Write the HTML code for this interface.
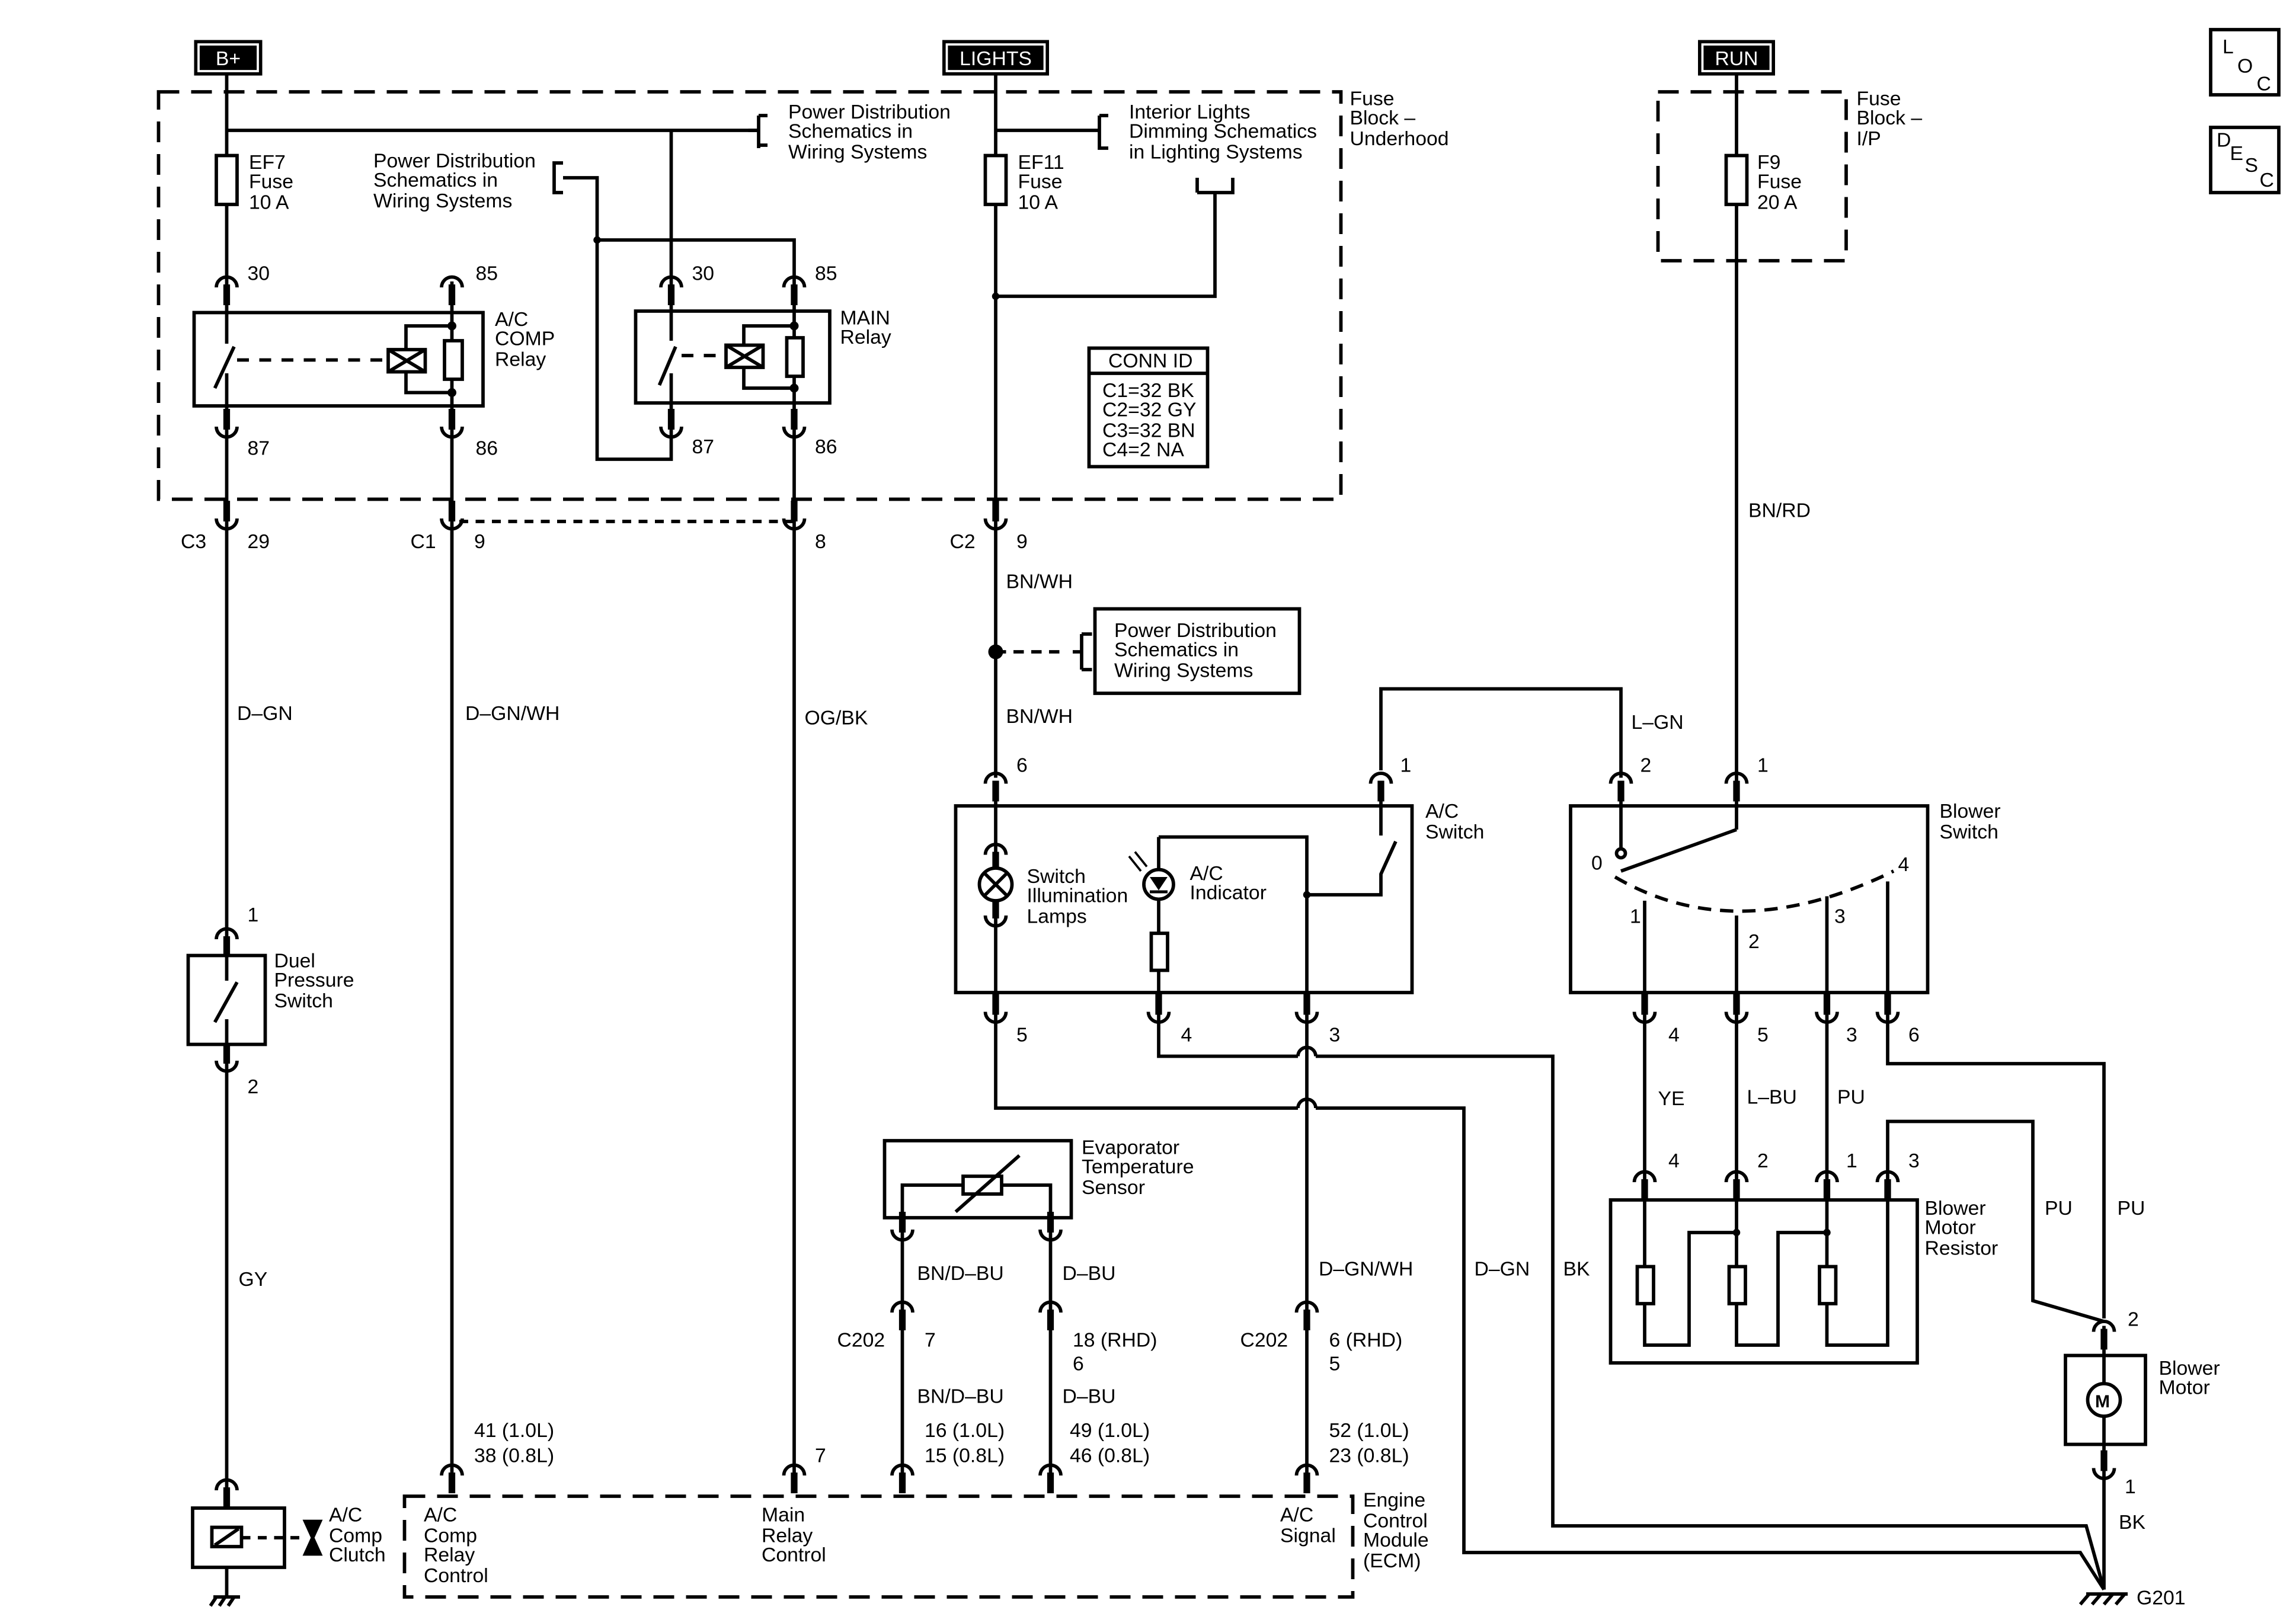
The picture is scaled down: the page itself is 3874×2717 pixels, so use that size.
<!DOCTYPE html>
<html><head><meta charset="utf-8"><style>
html,body{margin:0;padding:0;background:#fff;}
svg{display:block}
text{font-family:"Liberation Sans",sans-serif;font-size:13.5px;fill:#000}
</style></head><body>
<svg width="3874" height="2717" viewBox="0 0 1549.6 1086.8" xmlns="http://www.w3.org/2000/svg">
<defs>
<g id="pt"><path d="M-7,4 A7,7 0 0 1 7,4" fill="none" stroke="#000" stroke-width="2.3"/><line x1="0" y1="2" x2="0" y2="16" stroke="#000" stroke-width="4.5"/></g>
<g id="pb"><path d="M-7,-4 A7,7 0 0 0 7,-4" fill="none" stroke="#000" stroke-width="2.3"/><line x1="0" y1="-2" x2="0" y2="-16" stroke="#000" stroke-width="4.5"/></g>
</defs>
<rect width="1549.6" height="1086.8" fill="#fff"/>
<g fill="none" stroke="#000" stroke-width="2.3">
<rect x="107" y="62" width="798" height="275" stroke-dasharray="14,8"/>
<rect x="1119" y="62" width="127" height="114" stroke-dasharray="14,8"/>
<rect x="273" y="1010" width="640" height="68" stroke-dasharray="14,8"/>
<!-- B+ line -->
<path d="M153,50 V232 M153,252 V662 M153,688 V1018"/>
<path d="M153,88 H512"/>
<path d="M512,78 H518 M512,78 V100 M512,98 H518 M512,88 H505"/>
<path d="M453,88 V190"/>
<!-- LIGHTS -->
<path d="M672,50 V525"/>
<path d="M672,88 H742 M742,78 H748 M742,78 V100 H748"/>
<path d="M672,200 H820 V130 M808,130 V120 M808,130 H832 V120"/>
<!-- RUN -->
<path d="M1172,50 V560"/>
<rect x="146" y="105" width="14" height="33" fill="#fff"/>
<rect x="665" y="105" width="14" height="33" fill="#fff"/>
<rect x="1165" y="105" width="14" height="33" fill="#fff"/>
<!-- A/C comp relay -->
<rect x="131" y="211" width="195" height="63"/>
<path d="M305,190 V352 M305,352 V1000"/>
<path d="M145,262 L158,234"/>
<path d="M160,243 H262" stroke-dasharray="8,7"/>
<rect x="262" y="236" width="25" height="15"/>
<path d="M262,236 L287,251 M287,236 L262,251"/>
<path d="M274,236 V220 H305 M274,251 V265 H305"/>
<rect x="300" y="230" width="12" height="26" fill="#fff"/>
<!-- main relay -->
<rect x="429" y="210" width="131" height="62"/>
<path d="M453,190 V230 M445,260 L456,234 M453,252 V310 H403 V120 H380 M380,110 H374 V130 H380"/>
<path d="M403,162 H536 V1000"/>
<path d="M460,240 H490" stroke-dasharray="8,7"/>
<rect x="490" y="233" width="25" height="15"/>
<path d="M490,233 L515,248 M515,233 L490,248"/>
<path d="M502,233 V220 H536 M502,248 V262 H536"/>
<rect x="531" y="228" width="11" height="26" fill="#fff"/>
<path d="M310,352 H536" stroke-dasharray="6,5"/>
<path d="M672,440 H717" stroke-dasharray="7,5"/>
<path d="M730,440 H724 M730,428 V452 M730,428 H737 M730,452 H737"/>
<rect x="739" y="411" width="138" height="57"/>
<rect x="735" y="235" width="80" height="80"/>
<path d="M735,252 H815"/>
<!-- A/C switch -->
<rect x="645" y="544" width="308" height="126"/>
<path d="M672,540 V700 M672,700 V748 H876 M888,748 H988 V1048 H1404 L1420,1073"/>
<path d="M782,565 H882 V700 M882,700 V1000"/>
<path d="M782,565 V630 M782,655 V700 M782,700 V713 H876 M888,713 H1048 V1030 H1408 L1420,1073"/>
<path d="M876,713 A6,6 0 0 1 888,713 M876,748 A6,6 0 0 1 888,748"/>
<rect x="777" y="630" width="11" height="25" fill="#fff"/>
<path d="M882,604 H932 V590 L942,568 M932,540 V564"/>
<path d="M932,520 V465 H1094 V525"/>
<!-- evaporator -->
<rect x="597" y="770" width="126" height="52"/>
<path d="M609,830 V1000 M709,830 V1000"/>
<path d="M609,822 V800 H650 M676,800 H709 V822"/>
<rect x="650" y="794" width="26" height="12" fill="#fff"/>
<path d="M645,818 L688,780"/>
<!-- blower switch -->
<rect x="1060" y="544" width="241" height="126"/>
<path d="M1094,540 V572"/>
<circle cx="1094" cy="576" r="3" fill="#fff"/>
<path d="M1094,588 L1172,560"/>
<path d="M1090,592 Q1172,640 1278,588" stroke-dasharray="9,6"/>
<path d="M1110,608 V795 M1172,618 V795 M1233,605 V795 M1274,595 V718 H1420 V890"/>
<!-- resistor -->
<rect x="1087" y="810" width="207" height="110"/>
<path d="M1110,795 V908 H1140 V832 H1172 M1172,795 V908 H1200 V832 H1233 M1233,795 V908 H1274 V795 M1274,795 V757 H1372 V878 L1420,892"/>
<rect x="1105" y="855" width="11" height="25" fill="#fff"/>
<rect x="1167" y="855" width="11" height="25" fill="#fff"/>
<rect x="1228" y="855" width="11" height="25" fill="#fff"/>
<!-- motor -->
<rect x="1394" y="915" width="54" height="60"/>
<path d="M1420,895 V934 M1420,956 V1073"/>
<circle cx="1420" cy="945" r="11" fill="#fff"/>
<path d="M1408,1076 H1436 M1410,1076 L1404,1083 M1418,1076 L1412,1083 M1426,1076 L1420,1083 M1434,1076 L1428,1083"/>
<!-- duel pressure switch -->
<rect x="127" y="645" width="52" height="60"/>
<path d="M145,690 L160,663"/>
<!-- clutch -->
<rect x="130" y="1018" width="62" height="40"/>
<rect x="143" y="1031" width="20" height="13" fill="#fff"/>
<path d="M145,1043 L161,1032"/>
<path d="M163,1038 H205" stroke-dasharray="6,5"/>
<path d="M206,1027 L216,1027 L211,1038 Z M206,1049 L216,1049 L211,1038 Z" fill="#000"/>
<path d="M153,1058 V1078 M144,1078 H162 M146,1078 L142,1084 M152,1078 L148,1084 M158,1078 L154,1084"/>
<rect x="1492" y="20" width="46" height="44"/>
<rect x="1492" y="86" width="46" height="44"/>
</g>
<circle cx="672" cy="440" r="5" fill="#000"/>
<circle cx="403" cy="162" r="2.5" fill="#000"/>
<circle cx="672" cy="200" r="2.5" fill="#000"/>
<circle cx="305" cy="220" r="3" fill="#000"/><circle cx="305" cy="265" r="3" fill="#000"/>
<circle cx="536" cy="220" r="3" fill="#000"/><circle cx="536" cy="262" r="3" fill="#000"/>
<circle cx="882" cy="604" r="2.5" fill="#000"/>
<circle cx="1172" cy="832" r="2.5" fill="#000"/><circle cx="1233" cy="832" r="2.5" fill="#000"/>
<circle cx="782" cy="597" r="10" fill="#fff" stroke="#000" stroke-width="2.3"/>
<path d="M776,592 H788 L782,601 Z" fill="#000"/><line x1="776" y1="602" x2="788" y2="602" stroke="#000" stroke-width="2"/>
<path d="M770,588 L762,578 M774,585 L766,575" stroke="#000" stroke-width="1.5"/>
<text x="1419" y="950" text-anchor="middle" style="font-weight:bold;font-size:12px">M</text>
<!-- pins -->
<use href="#pt" x="153" y="190"/><use href="#pt" x="305" y="190"/><use href="#pt" x="453" y="190"/><use href="#pt" x="536" y="190"/>
<use href="#pb" x="153" y="292"/><use href="#pb" x="305" y="292"/><use href="#pb" x="453" y="292"/><use href="#pb" x="536" y="292"/>
<use href="#pb" x="153" y="354"/><use href="#pb" x="305" y="354"/><use href="#pb" x="536" y="354"/><use href="#pb" x="672" y="354"/>
<use href="#pt" x="153" y="630"/><use href="#pb" x="153" y="720"/><use href="#pt" x="153" y="1002"/>
<use href="#pt" x="305" y="992"/><use href="#pt" x="536" y="992"/><use href="#pt" x="609" y="992"/><use href="#pt" x="709" y="992"/><use href="#pt" x="882" y="992"/>
<use href="#pt" x="672" y="525"/><use href="#pt" x="932" y="525"/><use href="#pt" x="1094" y="525"/><use href="#pt" x="1172" y="525"/>
<use href="#pt" x="672" y="573"/><use href="#pb" x="672" y="622"/>
<use href="#pb" x="672" y="687"/><use href="#pb" x="782" y="687"/><use href="#pb" x="882" y="687"/>
<use href="#pb" x="1110" y="687"/><use href="#pb" x="1172" y="687"/><use href="#pb" x="1233" y="687"/><use href="#pb" x="1274" y="687"/>
<use href="#pt" x="1110" y="794"/><use href="#pt" x="1172" y="794"/><use href="#pt" x="1233" y="794"/><use href="#pt" x="1274" y="794"/>
<use href="#pb" x="609" y="834"/><use href="#pb" x="709" y="834"/>
<use href="#pt" x="609" y="882"/><use href="#pt" x="709" y="882"/><use href="#pt" x="882" y="882"/>
<use href="#pt" x="1420" y="895"/><use href="#pb" x="1420" y="995"/>
<circle cx="672" cy="597" r="11" fill="#fff" stroke="#000" stroke-width="2.3"/>
<path d="M664,589 L680,605 M680,589 L664,605" stroke="#000" stroke-width="2.3"/>
<rect x="131" y="27" width="46" height="24" fill="#000"/><rect x="134" y="30" width="40" height="18" fill="none" stroke="#fff" stroke-width="1.5"/>
<text x="154" y="44" text-anchor="middle" style="fill:#fff">B+</text>
<rect x="636" y="27" width="72" height="24" fill="#000"/><rect x="639" y="30" width="66" height="18" fill="none" stroke="#fff" stroke-width="1.5"/>
<text x="672" y="44" text-anchor="middle" style="fill:#fff">LIGHTS</text>
<rect x="1146" y="27" width="52" height="24" fill="#000"/><rect x="1149" y="30" width="46" height="18" fill="none" stroke="#fff" stroke-width="1.5"/>
<text x="1172" y="44" text-anchor="middle" style="fill:#fff">RUN</text>
<g>
<text x="1500" y="36">L</text><text x="1510" y="49">O</text><text x="1523" y="61">C</text>
<text x="1496" y="99">D</text><text x="1505" y="108">E</text><text x="1515" y="116">S</text><text x="1525" y="126">C</text>
<text x="911" y="71">Fuse</text><text x="911" y="84">Block –</text><text x="911" y="98">Underhood</text>
<text x="1253" y="71">Fuse</text><text x="1253" y="84">Block –</text><text x="1253" y="98">I/P</text>
<text x="532" y="80">Power Distribution</text><text x="532" y="93">Schematics in</text><text x="532" y="107">Wiring Systems</text>
<text x="762" y="80">Interior Lights</text><text x="762" y="93">Dimming Schematics</text><text x="762" y="107">in Lighting Systems</text>
<text x="252" y="113">Power Distribution</text><text x="252" y="126">Schematics in</text><text x="252" y="140">Wiring Systems</text>
<text x="168" y="114">EF7</text><text x="168" y="127">Fuse</text><text x="168" y="141">10 A</text>
<text x="687" y="114">EF11</text><text x="687" y="127">Fuse</text><text x="687" y="141">10 A</text>
<text x="1186" y="114">F9</text><text x="1186" y="127">Fuse</text><text x="1186" y="141">20 A</text>
<text x="167" y="189">30</text><text x="321" y="189">85</text><text x="467" y="189">30</text><text x="550" y="189">85</text>
<text x="334" y="220">A/C</text><text x="334" y="233">COMP</text><text x="334" y="247">Relay</text>
<text x="567" y="219">MAIN</text><text x="567" y="232">Relay</text>
<text x="167" y="307">87</text><text x="321" y="307">86</text><text x="467" y="306">87</text><text x="550" y="306">86</text>
<text x="748" y="248">CONN ID</text><text x="744" y="268">C1=32 BK</text><text x="744" y="281">C2=32 GY</text><text x="744" y="295">C3=32 BN</text><text x="744" y="308">C4=2 NA</text>
<text x="122" y="370">C3</text><text x="167" y="370">29</text><text x="277" y="370">C1</text><text x="320" y="370">9</text><text x="550" y="370">8</text><text x="641" y="370">C2</text><text x="686" y="370">9</text>
<text x="1180" y="349">BN/RD</text>
<text x="679" y="397">BN/WH</text><text x="679" y="488">BN/WH</text>
<text x="752" y="430">Power Distribution</text><text x="752" y="443">Schematics in</text><text x="752" y="457">Wiring Systems</text>
<text x="160" y="486">D–GN</text><text x="314" y="486">D–GN/WH</text><text x="543" y="489">OG/BK</text>
<text x="1101" y="492">L–GN</text>
<text x="686" y="521">6</text><text x="945" y="521">1</text><text x="1107" y="521">2</text><text x="1186" y="521">1</text>
<text x="962" y="552">A/C</text><text x="962" y="566">Switch</text>
<text x="1309" y="552">Blower</text><text x="1309" y="566">Switch</text>
<text x="693" y="596">Switch</text><text x="693" y="609">Illumination</text><text x="693" y="623">Lamps</text>
<text x="803" y="594">A/C</text><text x="803" y="607">Indicator</text>
<text x="1074" y="587">0</text><text x="1281" y="588">4</text><text x="1100" y="623">1</text><text x="1180" y="640">2</text><text x="1238" y="623">3</text>
<text x="167" y="622">1</text>
<text x="185" y="653">Duel</text><text x="185" y="666">Pressure</text><text x="185" y="680">Switch</text>
<text x="167" y="738">2</text>
<text x="686" y="703">5</text><text x="797" y="703">4</text><text x="897" y="703">3</text>
<text x="1126" y="703">4</text><text x="1186" y="703">5</text><text x="1246" y="703">3</text><text x="1288" y="703">6</text>
<text x="1119" y="746">YE</text><text x="1179" y="745">L–BU</text><text x="1240" y="745">PU</text>
<text x="730" y="779">Evaporator</text><text x="730" y="792">Temperature</text><text x="730" y="806">Sensor</text>
<text x="1126" y="788">4</text><text x="1186" y="788">2</text><text x="1246" y="788">1</text><text x="1288" y="788">3</text>
<text x="1299" y="820">Blower</text><text x="1299" y="833">Motor</text><text x="1299" y="847">Resistor</text>
<text x="1380" y="820">PU</text><text x="1429" y="820">PU</text>
<text x="619" y="864">BN/D–BU</text><text x="717" y="864">D–BU</text>
<text x="890" y="861">D–GN/WH</text><text x="995" y="861">D–GN</text><text x="1055" y="861">BK</text>
<text x="161" y="868">GY</text>
<text x="1436" y="895">2</text>
<text x="565" y="909">C202</text><text x="624" y="909">7</text><text x="724" y="909">18 (RHD)</text><text x="724" y="925">6</text>
<text x="837" y="909">C202</text><text x="897" y="909">6 (RHD)</text><text x="897" y="925">5</text>
<text x="1457" y="928">Blower</text><text x="1457" y="941">Motor</text>
<text x="619" y="947">BN/D–BU</text><text x="717" y="947">D–BU</text>
<text x="320" y="970">41 (1.0L)</text><text x="320" y="987">38 (0.8L)</text>
<text x="624" y="970">16 (1.0L)</text><text x="624" y="987">15 (0.8L)</text>
<text x="722" y="970">49 (1.0L)</text><text x="722" y="987">46 (0.8L)</text>
<text x="897" y="970">52 (1.0L)</text><text x="897" y="987">23 (0.8L)</text>
<text x="550" y="987">7</text>
<text x="1434" y="1008">1</text>
<text x="222" y="1027">A/C</text><text x="222" y="1041">Comp</text><text x="222" y="1054">Clutch</text>
<text x="286" y="1027">A/C</text><text x="286" y="1041">Comp</text><text x="286" y="1054">Relay</text><text x="286" y="1068">Control</text>
<text x="514" y="1027">Main</text><text x="514" y="1041">Relay</text><text x="514" y="1054">Control</text>
<text x="864" y="1027">A/C</text><text x="864" y="1041">Signal</text>
<text x="920" y="1017">Engine</text><text x="920" y="1031">Control</text><text x="920" y="1044">Module</text><text x="920" y="1058">(ECM)</text>
<text x="1430" y="1032">BK</text>
<text x="1442" y="1083">G201</text>
</g>
</svg>
</body></html>
